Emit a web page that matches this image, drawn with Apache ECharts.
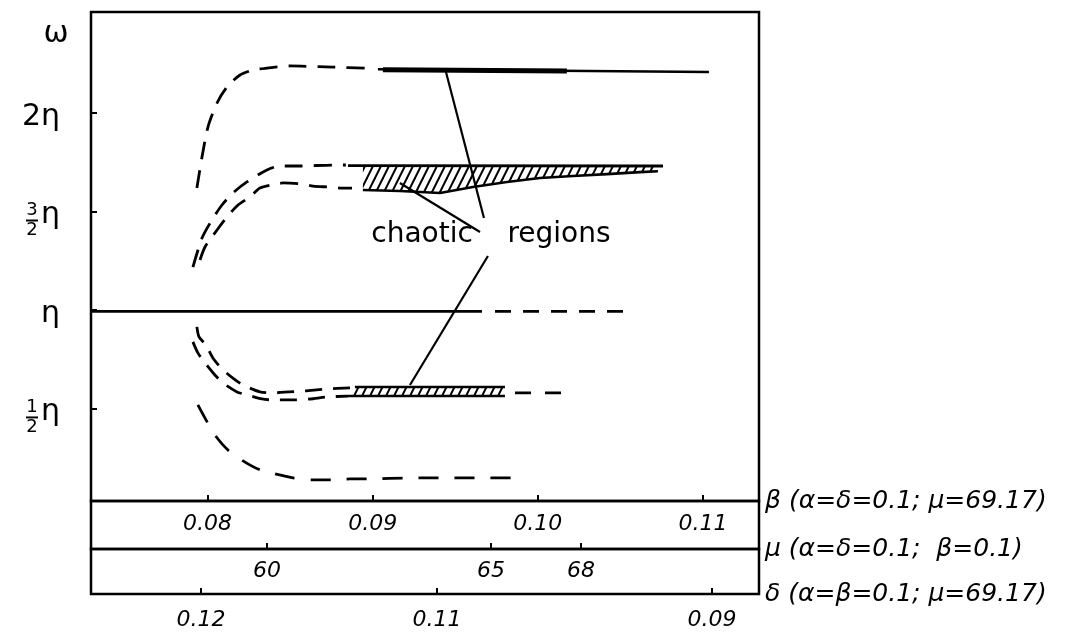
<!DOCTYPE html>
<html><head><meta charset="utf-8">
<script src="https://cdn.jsdelivr.net/npm/echarts@6/dist/echarts.min.js"></script>
<style>html,body{margin:0;padding:0;background:#fff}#c{width:1072px;height:635px}</style>
</head><body><div id="c"></div>
<script>
// ---- axes (main plot x = beta, y = omega in units of eta) ----
const betaMin = 0.07295, betaMax = 0.11339;
const omegaMin = 0.03, omegaMax = 2.513;
const betaTicks = [0.08, 0.09, 0.10, 0.11];
const betaTickLabels = ['0.08', '0.09', '0.10', '0.11'];
const muTickAt = [0.08360, 0.09716, 0.10261];      // mu scale ticks, placed on the shared beta scale
const muTickLabels = ['60', '65', '68'];
const deltaTickAt = [0.07961, 0.09389, 0.11054];   // delta scale ticks, placed on the shared beta scale
const deltaTickLabels = ['0.12', '0.11', '0.09'];
const omegaTicks = [0.5, 1, 1.5, 2];
const omegaTickLabels = ['1/2η', 'η', '3/2η', '2η'];
const axisNames = ['β (α=δ=0.1; μ=69.17)', 'μ (α=δ=0.1;  β=0.1)', 'δ (α=β=0.1; μ=69.17)'];
const yName = 'ω';

// ---- curves [beta, omega/eta] ----
const topDashed = [[0.07936,1.619],[0.07967,1.777],[0.08003,1.929],[0.08058,2.051],[0.08118,2.132],[0.08197,2.193],[0.08275,2.218],[0.08360,2.228],[0.08499,2.239],[0.08760,2.233],[0.08954,2.228]];
const topSolid = [[0.09032,2.222],[0.11036,2.208]];
const topChaotic = [[0.09062,2.220],[0.10176,2.214]];
const upperMidDashed = [[0.07912,1.218],[0.07967,1.365],[0.08027,1.457],[0.08088,1.533],[0.08154,1.594],[0.08239,1.650],[0.08360,1.711],[0.08439,1.731],[0.08560,1.731],[0.08760,1.736],[0.08838,1.736]];
const upperMidSolid = [[0.08851,1.733],[0.10758,1.731]];
const lowerMidDashed = [[0.07955,1.254],[0.07985,1.320],[0.08058,1.406],[0.08118,1.472],[0.08185,1.533],[0.08257,1.574],[0.08318,1.619],[0.08421,1.640],[0.08457,1.645],[0.08578,1.640],[0.08639,1.629],[0.08742,1.624],[0.08802,1.619],[0.08875,1.619]];
const midChaoticTop = [[0.08941,1.731],[0.10727,1.731]];
const midChaoticBottom = [[0.08941,1.609],[0.09165,1.604],[0.09408,1.594],[0.09607,1.624],[0.09813,1.650],[0.10013,1.670],[0.10213,1.680],[0.10419,1.690],[0.10618,1.700],[0.10727,1.704]];
const etaSolid = [[0.07295,0.993],[0.09662,0.993]];
const etaDashed = [[0.09741,0.993],[0.10570,0.993]];
const lowPairUpper = [[0.07936,0.914],[0.07949,0.863],[0.07991,0.822],[0.08033,0.756],[0.08088,0.701],[0.08160,0.650],[0.08215,0.619],[0.08318,0.584],[0.08397,0.579],[0.08493,0.584],[0.08590,0.589],[0.08720,0.599],[0.08863,0.604]];
const lowPairLower = [[0.07912,0.838],[0.07942,0.782],[0.07985,0.731],[0.08045,0.670],[0.08094,0.629],[0.08179,0.584],[0.08239,0.569],[0.08330,0.548],[0.08409,0.543],[0.08512,0.543],[0.08621,0.548],[0.08720,0.558],[0.08851,0.563]];
const lowChaoticTop = [[0.08893,0.609],[0.09801,0.609]];
const lowChaoticBottom = [[0.08851,0.563],[0.09801,0.563]];
const lowAfterDashed = [[0.09862,0.579],[0.10146,0.579]];
const bottomDashed = [[0.07942,0.518],[0.07991,0.442],[0.08045,0.365],[0.08124,0.289],[0.08215,0.234],[0.08318,0.188],[0.08409,0.168],[0.08518,0.147],[0.08633,0.137],[0.08760,0.137],[0.08863,0.142],[0.08984,0.142],[0.09220,0.147],[0.09450,0.147],[0.09668,0.147],[0.09910,0.147]];

// ---- annotations ----
const annoTexts = ['chaotic', 'regions'];
const annoAt = [[0.09299,1.381],[0.10128,1.381]];
const leaderLines = [[[0.09444,2.208],[0.09674,1.467]], [[0.09165,1.645],[0.09650,1.396]], [[0.09698,1.274],[0.09226,0.619]]];

// ---------------------------------------------------------
function hatchPattern() {
  const c = document.createElement('canvas'); c.width = 8; c.height = 16;
  const g = c.getContext('2d'); g.strokeStyle = '#000'; g.lineWidth = 2;
  [-8, 0, 8].forEach(function (s) { g.beginPath(); g.moveTo(-2 + s, 20); g.lineTo(10 + s, -4); g.stroke(); });
  return { image: c, repeat: 'repeat' };
}
const pattern = hatchPattern();
const FONT = 'DejaVu Sans';
function nearestLabel(val, at, labels) {
  let bi = 0; for (let i = 1; i < at.length; i++) if (Math.abs(at[i] - val) < Math.abs(at[bi] - val)) bi = i;
  return labels[bi];
}
function lineSeries(data, dash, width, smooth) {
  return { type: 'line', xAxisIndex: 0, yAxisIndex: 0, data: data, symbol: 'none', smooth: smooth ? 0.25 : false,
    lineStyle: { color: '#000', width: width, type: dash || 'solid', cap: 'butt', join: 'round' }, silent: true, z: 3 };
}
function polySeries(top, bottom) {
  return { type: 'custom', xAxisIndex: 0, yAxisIndex: 0, data: [top[0]], silent: true, z: 2,
    renderItem: function (params, api) {
      const pts = top.concat(bottom.slice().reverse()).map(function (p) { return api.coord(p); });
      return { type: 'polygon', shape: { points: pts }, style: { fill: pattern } };
    } };
}
const labelStyle = { color: '#000', fontFamily: FONT, fontStyle: 'italic', fontSize: 22 };
const tickStyle = { show: true, inside: true, length: 6, lineStyle: { color: '#000', width: 2 } };
function xAxisDef(idx, at, labels, margin) {
  return { gridIndex: idx, type: 'value', min: betaMin, max: betaMax,
    axisLine: { show: false }, splitLine: { show: false },
    axisTick: Object.assign({ customValues: at }, tickStyle),
    axisLabel: Object.assign({ customValues: at, margin: margin, formatter: function (v) { return nearestLabel(v, at, labels); } }, labelStyle),
    name: axisNames[idx], nameLocation: 'end', nameGap: 6,
    nameTextStyle: { color: '#000', fontFamily: FONT, fontStyle: 'italic', fontSize: 25, align: 'left', verticalAlign: 'middle' } };
}
const gridBase = { left: 91, width: 668, show: true, borderColor: '#000', borderWidth: 2.5, containLabel: false };

const chart = echarts.init(document.getElementById('c'), null, { renderer: 'canvas' });
const DW = 2.8;
const series = [
  lineSeries(topDashed, [18, 11], DW, true),
  lineSeries(topSolid, 'solid', 2.4),
  lineSeries(topChaotic, 'solid', 5),
  lineSeries(upperMidDashed, [18, 11], DW, true),
  lineSeries(upperMidSolid, 'solid', 2.8),
  lineSeries(lowerMidDashed, [18, 11], DW, true),
  polySeries(midChaoticTop, midChaoticBottom),
  lineSeries(midChaoticBottom, 'solid', 2.6),
  lineSeries(etaSolid, 'solid', 2.8),
  lineSeries(etaDashed, [16, 12], DW),
  lineSeries(lowPairUpper, [17, 11], DW, true),
  lineSeries(lowPairLower, [17, 11], DW, true),
  polySeries(lowChaoticTop, lowChaoticBottom),
  lineSeries(lowChaoticTop, 'solid', 2.6),
  lineSeries(lowChaoticBottom, 'solid', 2.6),
  lineSeries(lowAfterDashed, [16, 14], DW),
  lineSeries(bottomDashed, [20, 16], DW, true)
];
leaderLines.forEach(function (l) { series.push(lineSeries(l, 'solid', 2.2)); });

chart.setOption({
  animation: false,
  backgroundColor: '#fff',
  grid: [Object.assign({ top: 12, height: 489 }, gridBase), Object.assign({ top: 501, height: 48 }, gridBase), Object.assign({ top: 549, height: 45 }, gridBase)],
  xAxis: [xAxisDef(0, betaTicks, betaTickLabels, 12), xAxisDef(1, muTickAt, muTickLabels, 11), xAxisDef(2, deltaTickAt, deltaTickLabels, 15)],
  yAxis: [
    { gridIndex: 0, type: 'value', min: omegaMin, max: omegaMax, axisLine: { show: false }, splitLine: { show: false },
      axisTick: Object.assign({ customValues: omegaTicks }, tickStyle), axisLabel: { show: false } },
    { gridIndex: 1, type: 'value', show: false }, { gridIndex: 2, type: 'value', show: false }
  ],
  series: series
});

// y tick labels (with stacked fractions) and annotation texts, placed through the axis scales
const axX = chart.convertToPixel({ xAxisIndex: 0 }, betaMin);
const g = [];
const rightX = axX - 31;
omegaTicks.forEach(function (v, i) {
  const y = chart.convertToPixel({ yAxisIndex: 0 }, v);
  const lab = omegaTickLabels[i];
  const m = lab.match(/^(\d+)\/(\d+)(.*)$/);
  const ts = { fill: '#000', fontFamily: FONT, fontSize: 30, align: 'right', verticalAlign: 'middle' };
  if (m) {
    g.push({ type: 'text', x: rightX, y: y + 4, style: Object.assign({ text: m[3] }, ts) });
    const cx = rightX - 28;
    g.push({ type: 'text', x: cx, y: y - 1, style: { text: m[1], fill: '#000', fontFamily: FONT, fontSize: 18, align: 'center', verticalAlign: 'middle' } });
    g.push({ type: 'line', shape: { x1: cx - 6, y1: y + 9, x2: cx + 6, y2: y + 9 }, style: { stroke: '#000', lineWidth: 2 } });
    g.push({ type: 'text', x: cx, y: y + 19, style: { text: m[2], fill: '#000', fontFamily: FONT, fontSize: 18, align: 'center', verticalAlign: 'middle' } });
  } else {
    g.push({ type: 'text', x: rightX, y: y + 4, style: Object.assign({ text: lab }, ts) });
  }
});
const topY = chart.convertToPixel({ yAxisIndex: 0 }, omegaMax);
g.push({ type: 'text', x: axX - 35, y: topY + 22, style: { text: yName, fill: '#000', fontFamily: FONT, fontSize: 30, align: 'center', verticalAlign: 'middle' } });
annoTexts.forEach(function (t, i) {
  const p = chart.convertToPixel({ xAxisIndex: 0, yAxisIndex: 0 }, annoAt[i]);
  g.push({ type: 'text', x: p[0], y: p[1], z: 10, style: { text: t, fill: '#000', fontFamily: FONT, fontSize: 28, align: 'center', verticalAlign: 'middle' } });
});
chart.setOption({ graphic: g });
</script></body></html>
